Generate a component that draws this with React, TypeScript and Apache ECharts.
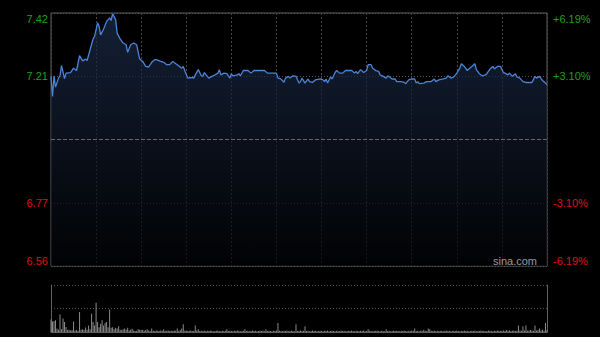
import React, { useEffect, useRef } from 'react';
import * as echarts from 'echarts';

const prevClose = 6.99;

const minutes = [
  0, 1, 2, 3, 5, 6, 7, 9, 10, 13, 15, 17, 19, 21, 23, 24, 26, 28, 29, 31,
  32, 33, 35, 37, 39, 40, 41, 43, 44, 46, 48, 50, 51, 53, 55, 57, 59, 61, 63, 65,
  67, 69, 70, 73, 75, 77, 79, 81, 84, 87, 88, 89, 91, 94, 95, 96, 98, 100, 101, 102,
  104, 105, 107, 109, 111, 112, 113, 115, 117, 119, 120, 121, 124, 125, 126, 128, 131, 133, 135, 142,
  144, 150, 151, 153, 155, 156, 158, 159, 161, 163, 165, 166, 167, 169, 171, 172, 174, 176, 179, 181,
  182, 183, 184, 186, 187, 189, 190, 192, 194, 196, 200, 202, 203, 204, 206, 208, 210, 211, 213, 214,
  216, 218, 219, 221, 223, 224, 227, 229, 230, 233, 235, 236, 238, 240, 242, 243, 244, 245, 248, 250,
  253, 255, 256, 258, 261, 263, 264, 266, 268, 270, 272, 273, 275, 277, 278, 280, 282, 283, 285, 287,
  289, 290, 292, 294, 295, 297, 299, 301, 302, 304, 305, 307, 309, 310, 312, 314, 316, 320, 322, 323,
  325, 327, 329, 330,
];

const prices = [
  7.206, 7.137, 7.208, 7.169, 7.200, 7.208, 7.243, 7.198, 7.217, 7.219, 7.234, 7.226, 7.277, 7.259, 7.265, 7.260, 7.297, 7.334, 7.343, 7.389,
  7.377, 7.348, 7.368, 7.394, 7.406, 7.397, 7.420, 7.400, 7.354, 7.334, 7.320, 7.314, 7.288, 7.314, 7.320, 7.314, 7.265, 7.257, 7.240, 7.238,
  7.254, 7.263, 7.263, 7.257, 7.254, 7.246, 7.246, 7.257, 7.246, 7.234, 7.240, 7.225, 7.200, 7.202, 7.200, 7.211, 7.229, 7.208, 7.206, 7.219,
  7.206, 7.200, 7.206, 7.211, 7.217, 7.229, 7.211, 7.217, 7.215, 7.200, 7.215, 7.208, 7.211, 7.215, 7.208, 7.226, 7.226, 7.217, 7.226, 7.226,
  7.217, 7.217, 7.200, 7.197, 7.186, 7.200, 7.206, 7.200, 7.208, 7.206, 7.183, 7.188, 7.200, 7.183, 7.197, 7.188, 7.185, 7.194, 7.197, 7.194,
  7.188, 7.197, 7.183, 7.204, 7.197, 7.219, 7.226, 7.217, 7.217, 7.226, 7.226, 7.217, 7.223, 7.215, 7.229, 7.219, 7.226, 7.246, 7.246, 7.234,
  7.226, 7.223, 7.211, 7.206, 7.200, 7.208, 7.197, 7.197, 7.188, 7.188, 7.185, 7.181, 7.194, 7.197, 7.197, 7.183, 7.188, 7.181, 7.183, 7.188,
  7.188, 7.197, 7.188, 7.194, 7.197, 7.200, 7.208, 7.200, 7.204, 7.217, 7.234, 7.249, 7.240, 7.226, 7.231, 7.240, 7.249, 7.229, 7.215, 7.208,
  7.211, 7.215, 7.231, 7.240, 7.231, 7.240, 7.240, 7.219, 7.217, 7.211, 7.217, 7.206, 7.215, 7.204, 7.200, 7.188, 7.185, 7.185, 7.206, 7.200,
  7.206, 7.192, 7.183, 7.177,
];

const volumes = [
  53, 45, 47, 50, 15, 10, 74, 12, 57, 43,
  21, 8, 10, 6, 8, 45, 6, 8, 5, 85,
  10, 12, 8, 19, 10, 28, 12, 78, 43, 28,
  125, 43, 20, 35, 50, 28, 38, 43, 20, 96,
  18, 20, 12, 18, 15, 24, 10, 8, 12, 15,
  10, 18, 6, 10, 14, 6, 4, 5, 12, 10,
  8, 10, 5, 8, 12, 6, 4, 15, 5, 4,
  6, 5, 4, 6, 5, 12, 4, 5, 6, 4,
  5, 4, 6, 5, 15, 4, 8, 15, 33, 5,
  6, 4, 5, 6, 4, 5, 28, 6, 12, 4,
  5, 4, 6, 3, 5, 4, 6, 5, 3, 4,
  5, 6, 4, 3, 5, 4, 5, 12, 4, 5,
  4, 3, 5, 4, 6, 5, 3, 4, 5, 12,
  4, 5, 3, 4, 6, 4, 5, 3, 4, 5,
  4, 6, 3, 12, 4, 5, 4, 3, 5, 4,
  6, 38, 5, 4, 3, 5, 4, 6, 3, 4,
  5, 4, 3, 33, 4, 5, 6, 4, 5, 24,
  4, 5, 3, 4, 6, 4, 5, 3, 4, 5,
  4, 3, 5, 4, 6, 3, 4, 5, 4, 3,
  5, 4, 3, 6, 4, 5, 3, 4, 5, 4,
  6, 4, 3, 5, 4, 3, 5, 4, 6, 3,
  4, 12, 5, 4, 3, 5, 4, 6, 4, 3,
  5, 4, 3, 12, 4, 5, 3, 4, 6, 4,
  5, 4, 3, 5, 4, 6, 4, 3, 5, 4,
  6, 5, 15, 4, 5, 3, 6, 4, 10, 5,
  4, 15, 12, 5, 4, 6, 3, 5, 4, 5,
  4, 3, 5, 6, 4, 5, 3, 4, 5, 4,
  6, 4, 3, 5, 4, 6, 4, 5, 3, 4,
  5, 4, 6, 3, 5, 4, 6, 4, 5, 3,
  4, 6, 5, 4, 3, 5, 4, 6, 5, 4,
  5, 6, 4, 8, 5, 6, 4, 5, 6, 4,
  5, 28, 6, 5, 24, 6, 28, 5, 6, 8,
  6, 5, 28, 6, 8, 15, 6, 10, 5, 38,
  8,
];

const pctRange = 6.19;
const totalMinutes = 330;
const volMax = 200;

const GREEN = '#1aa31a';
const RED = '#e01010';
const FONT = '"Liberation Sans", Arial, sans-serif';

export default function App() {
  const ref = useRef<HTMLDivElement>(null);

  useEffect(() => {
    document.body.style.margin = '0';
    const chart = echarts.init(ref.current!, null, { renderer: 'svg' });
    const lineData = minutes.map((m, i) => [m, (prices[i] / prevClose - 1) * 100]);
    const volData = volumes.map((v, i) => [i, v]);
    const pctText = (v: number) => {
      const r = Math.round(Math.abs(v) * 100 + 1e-6) / 100;
      return r.toFixed(2);
    };
    const labelColor = (v: any) => (Number(v) > 0 ? GREEN : RED);

    chart.setOption({
      animation: false,
      backgroundColor: '#000',
      grid: [
        { left: 51, right: 53, top: 13, height: 253, show: true, borderColor: '#606060', borderWidth: 1, backgroundColor: 'transparent' },
        { left: 51, right: 53, top: 285, height: 47 },
      ],
      xAxis: [
        {
          gridIndex: 0, type: 'value', min: 0, max: totalMinutes, interval: 30,
          axisLine: { show: false }, axisTick: { show: false }, axisLabel: { show: false },
          splitLine: { show: true, lineStyle: { color: '#474747', type: [2, 2], width: 1 } },
        },
        {
          gridIndex: 1, type: 'value', min: 0, max: totalMinutes, interval: 30,
          axisLine: { show: true, onZero: false, lineStyle: { color: '#606060' } },
          axisTick: { show: false }, axisLabel: { show: false }, splitLine: { show: false },
        },
      ],
      yAxis: [
        {
          gridIndex: 0, type: 'value', position: 'left', min: -pctRange, max: pctRange, interval: pctRange / 2,
          axisLine: { show: false }, axisTick: { show: false },
          axisLabel: {
            margin: 3, fontSize: 11, fontFamily: FONT, color: labelColor,
            verticalAlignMaxLabel: 'top', verticalAlignMinLabel: 'bottom',
            formatter: (v: number) => (Math.abs(v) < 1e-6 ? '' : (prevClose * (1 + v / 100)).toFixed(2)),
          },
          splitLine: { show: true, lineStyle: { color: '#555', type: [1, 2], width: 1 } },
        },
        {
          gridIndex: 0, type: 'value', position: 'right', min: -pctRange, max: pctRange, interval: pctRange / 2,
          axisLine: { show: false }, axisTick: { show: false },
          axisLabel: {
            margin: 6, fontSize: 11, fontFamily: FONT, color: labelColor,
            verticalAlignMaxLabel: 'top', verticalAlignMinLabel: 'bottom',
            formatter: (v: number) => (Math.abs(v) < 1e-6 ? '' : (v > 0 ? '+' : '-') + pctText(v) + '%'),
          },
          splitLine: { show: false },
        },
        {
          gridIndex: 1, type: 'value', position: 'left', min: 0, max: volMax, interval: volMax / 2,
          axisLine: { show: true, lineStyle: { color: '#606060' } }, axisTick: { show: false }, axisLabel: { show: false },
          splitLine: { show: true, lineStyle: { color: '#555', type: [1, 2], width: 1 } },
        },
        {
          gridIndex: 1, type: 'value', position: 'right', min: 0, max: volMax, interval: volMax / 2,
          axisLine: { show: true, lineStyle: { color: '#606060' } }, axisTick: { show: false }, axisLabel: { show: false },
          splitLine: { show: false },
        },
      ],
      series: [
        {
          type: 'line', xAxisIndex: 0, yAxisIndex: 0, data: lineData,
          showSymbol: false, symbol: 'none',
          lineStyle: { color: '#4d82d6', width: 1.3 },
          areaStyle: {
            origin: 'start',
            color: new echarts.graphic.LinearGradient(0, 0, 0, 1, [
              { offset: 0, color: '#1c2d4b' },
              { offset: 0.5, color: '#0f1828' },
              { offset: 1, color: '#020305' },
            ]),
          },
          markLine: {
            silent: true, symbol: 'none', label: { show: false },
            lineStyle: { color: '#666', type: [4, 2], width: 1 },
            data: [{ yAxis: 0 }],
          },
          z: 3,
        },
        {
          type: 'bar', xAxisIndex: 1, yAxisIndex: 2, data: volData,
          barWidth: 1, itemStyle: { color: '#8a8a8a' },
        },
      ],
      graphic: [
        {
          type: 'text', x: 537, y: 266,
          style: { text: 'sina.com', fill: '#9a9a9a', font: `11px ${FONT}`, align: 'right', verticalAlign: 'bottom' },
          z: 10,
        },
      ],
    });
    return () => chart.dispose();
  }, []);

  return <div ref={ref} style={{ position: 'absolute', left: 0, top: 0, width: 600, height: 337 }} />;
}
